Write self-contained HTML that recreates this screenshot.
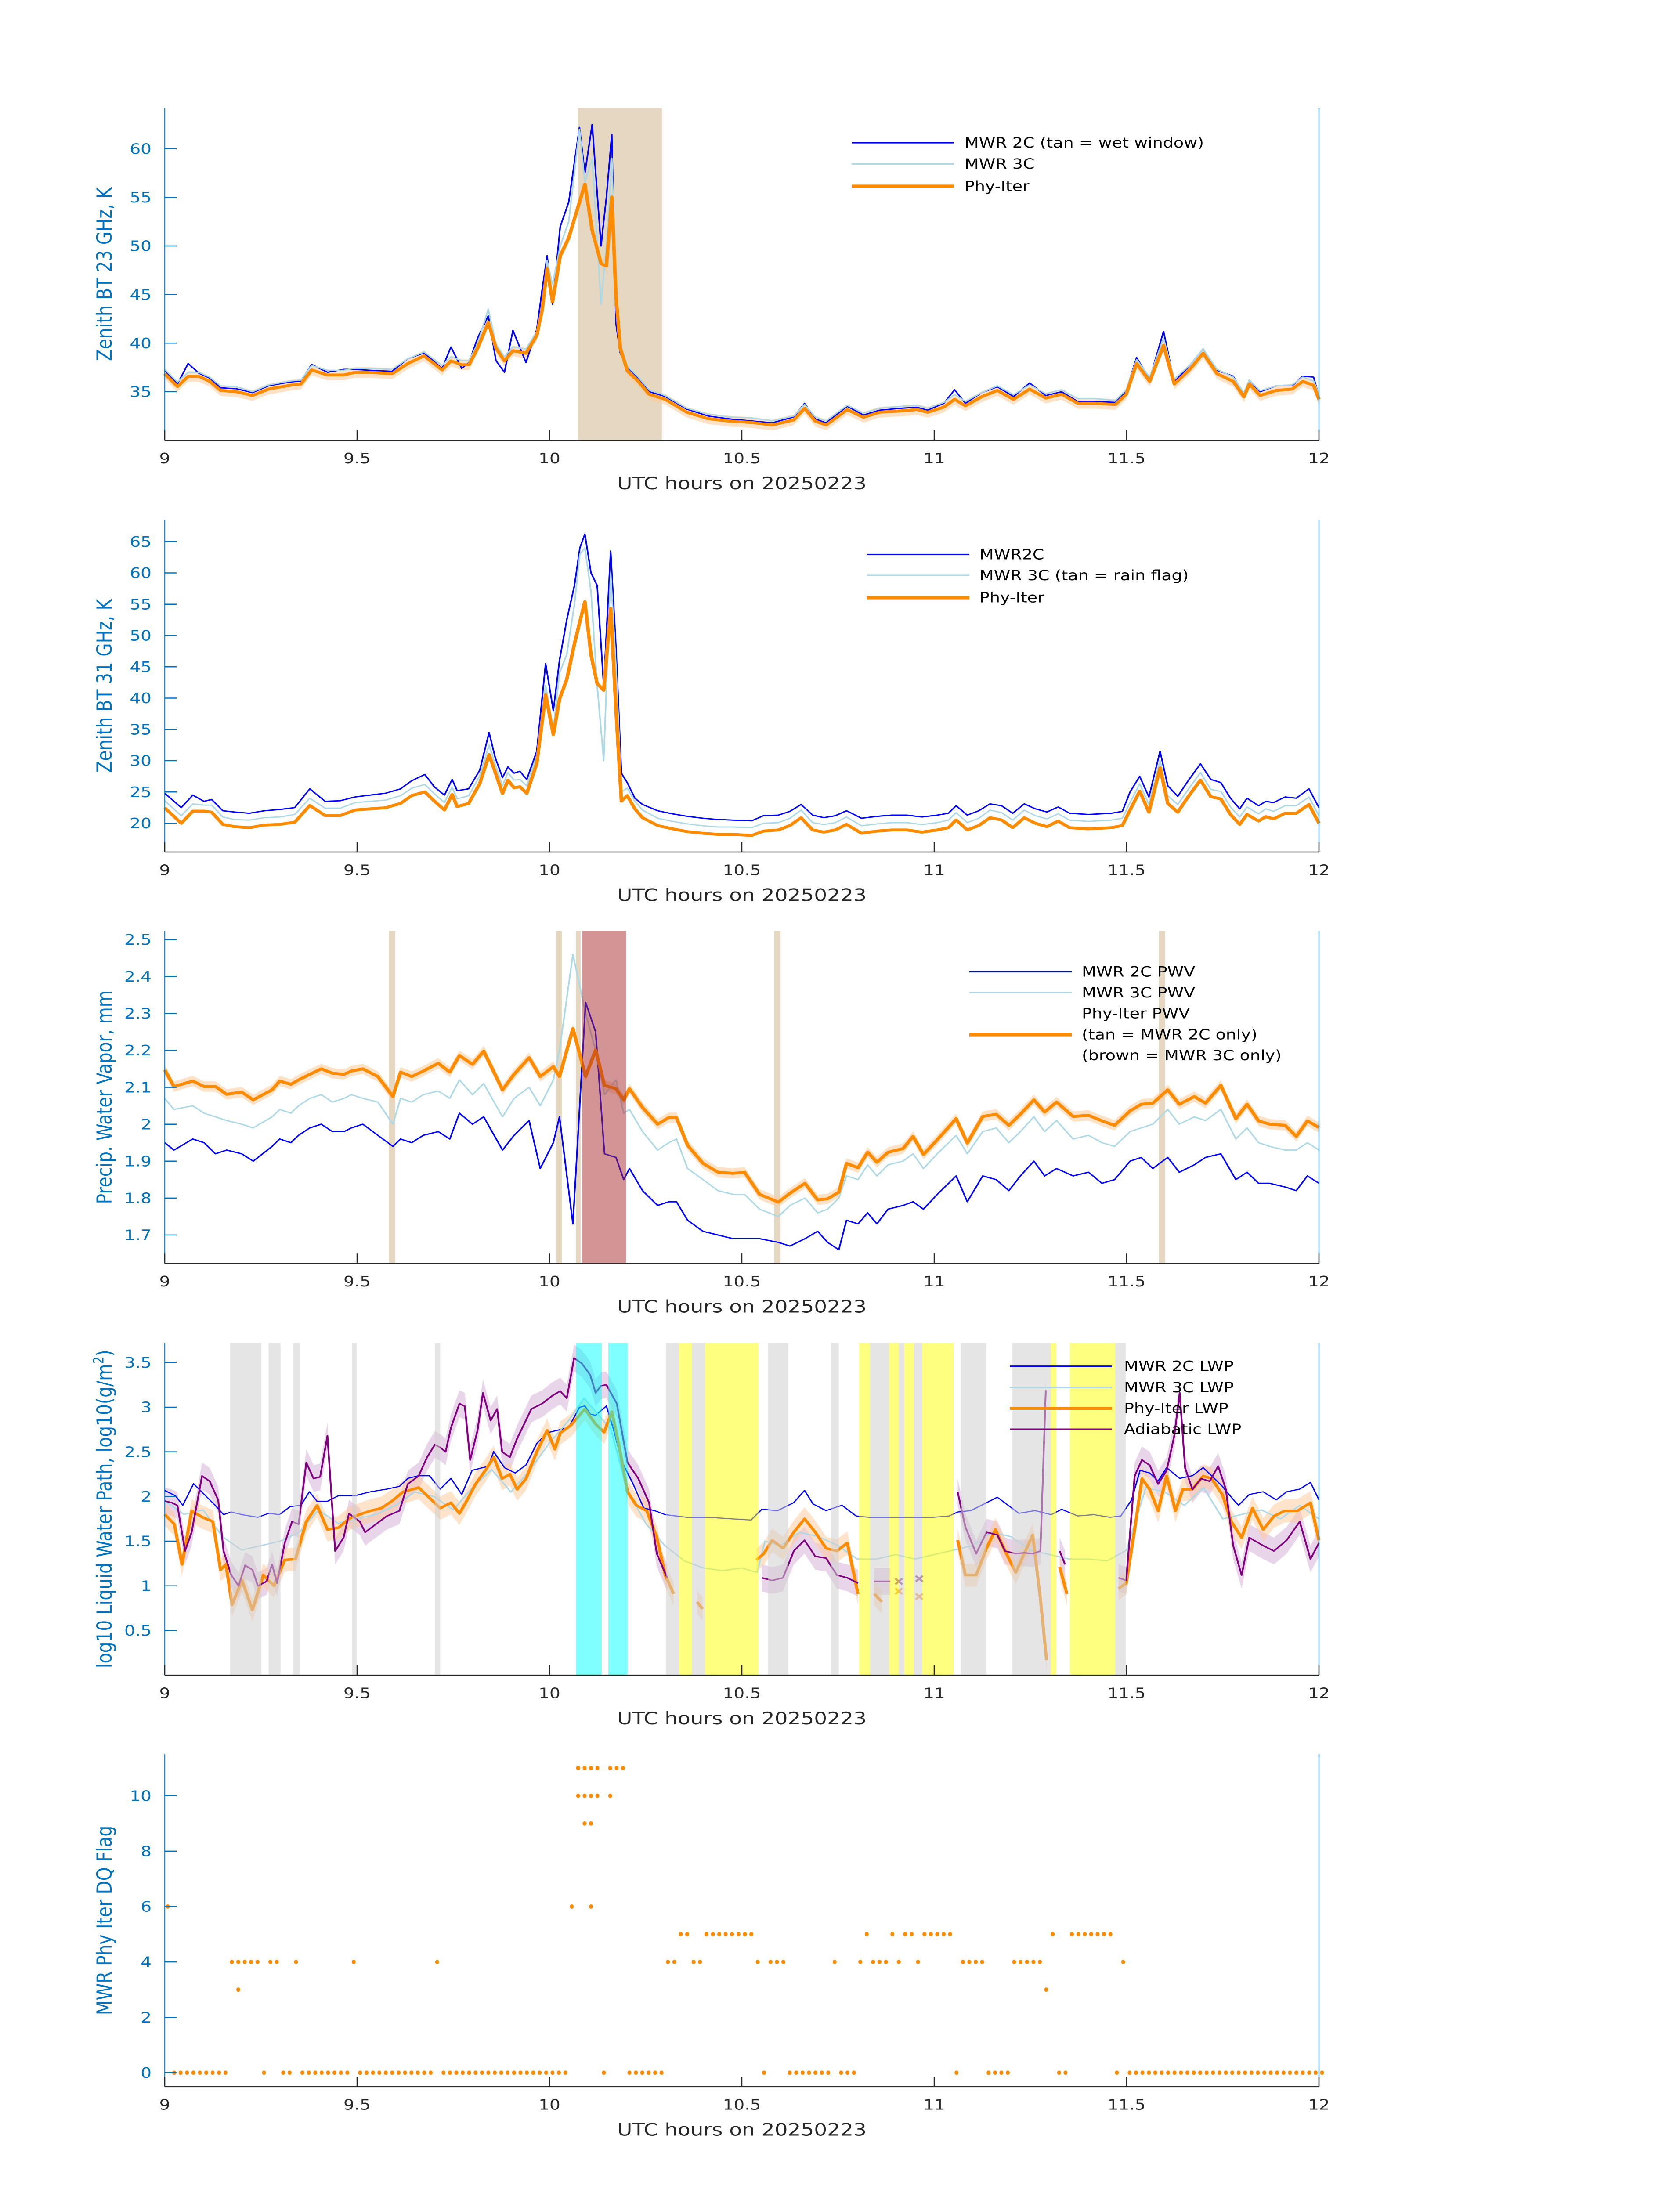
<!DOCTYPE html>
<html><head><meta charset="utf-8"><style>
html,body{margin:0;padding:0;background:#fff;width:100%;height:100%;overflow:hidden;}
svg{display:block;width:100vw;height:100vh;font-family:"DejaVu Sans","Liberation Sans",sans-serif;}
</style></head><body>
<svg id="fig" xmlns="http://www.w3.org/2000/svg" viewBox="0 0 3825 6000" preserveAspectRatio="none"></svg>
<script>
// ---------- Panel 1: 23 GHz BT ----------
const t1=[9.000,9.033,9.061,9.089,9.117,9.145,9.187,9.228,9.270,9.326,9.354,9.382,9.423,9.465,9.493,9.535,9.591,9.632,9.674,9.721,9.744,9.772,9.791,9.813,9.841,9.861,9.883,9.905,9.939,9.967,9.981,9.994,10.008,10.028,10.050,10.078,10.092,10.111,10.134,10.148,10.162,10.173,10.184,10.203,10.231,10.259,10.301,10.357,10.412,10.468,10.524,10.579,10.635,10.663,10.691,10.719,10.774,10.816,10.858,10.914,10.955,10.983,11.025,11.053,11.081,11.123,11.164,11.206,11.248,11.290,11.331,11.373,11.415,11.471,11.499,11.526,11.560,11.596,11.624,11.666,11.699,11.735,11.777,11.805,11.819,11.847,11.889,11.930,11.958,11.986,12.000];
const phy23=[36.85,35.53,36.58,36.58,36.06,35.13,35.00,34.61,35.27,35.66,35.79,37.24,36.72,36.72,36.98,36.98,36.85,37.90,38.69,37.24,38.17,37.77,37.77,39.48,42.12,39.48,38.17,39.22,38.96,40.80,43.44,47.66,44.23,48.98,50.82,54.51,56.36,51.61,48.19,47.92,55.04,44.76,39.48,37.11,36.06,34.74,34.21,32.89,32.23,31.97,31.84,31.57,32.10,33.29,31.97,31.57,33.16,32.36,32.89,33.02,33.16,32.89,33.42,34.21,33.55,34.47,35.13,34.21,35.27,34.34,34.74,33.81,33.81,33.68,34.74,37.90,36.06,39.75,35.79,37.37,38.96,36.85,36.06,34.47,35.79,34.61,35.13,35.27,36.06,35.66,34.21];
const mwr2c23=[37.2,35.8,37.9,36.9,36.4,35.4,35.3,34.9,35.6,36.0,36.1,37.8,37.0,37.3,37.3,37.2,37.1,38.4,39.0,37.4,39.6,37.4,38.0,40.5,42.8,38.2,37.0,41.3,38.0,41.4,45.5,49.0,44.0,52.0,54.5,62.2,57.5,62.5,50.0,55.0,61.5,42.0,39.0,37.5,36.4,35.0,34.5,33.2,32.5,32.2,32.0,31.8,32.4,33.8,32.2,31.8,33.5,32.6,33.1,33.3,33.4,33.1,33.8,35.2,33.8,34.9,35.5,34.5,35.9,34.6,35.0,34.0,34.0,33.9,35.1,38.5,36.3,41.2,36.0,37.8,39.4,37.2,36.6,34.7,36.2,35.0,35.6,35.6,36.6,36.5,34.5];
const mwr3c23=[37.3,36.0,37.0,37.0,36.5,35.6,35.5,35.0,35.7,36.1,36.2,37.7,37.2,37.2,37.4,37.4,37.3,38.4,39.1,37.7,38.6,38.2,38.2,39.9,43.5,39.9,38.6,39.6,39.4,41.2,44.0,48.5,46.0,50.0,52.5,62.0,56.5,59.0,44.0,50.0,59.0,45.5,40.0,37.6,36.5,35.2,34.6,33.3,32.7,32.4,32.3,32.0,32.5,33.7,32.4,32.0,33.6,32.8,33.3,33.5,33.6,33.3,33.9,34.7,34.0,34.9,35.6,34.7,35.7,34.8,35.2,34.3,34.3,34.1,35.2,38.3,36.5,40.5,36.3,37.8,39.4,37.3,36.5,34.9,36.2,35.1,35.6,35.7,36.5,36.1,34.7];
const wetWindow=[[10.074,10.292]];
const ticks1=[35,40,45,50,55,60];

// ---------- Panel 2: 31 GHz BT ----------
const t2=[9.000,9.043,9.073,9.102,9.122,9.151,9.181,9.220,9.259,9.299,9.338,9.377,9.417,9.456,9.495,9.534,9.574,9.613,9.642,9.676,9.701,9.727,9.747,9.760,9.790,9.819,9.843,9.859,9.878,9.892,9.908,9.923,9.941,9.967,9.990,10.010,10.026,10.045,10.065,10.079,10.092,10.108,10.124,10.141,10.159,10.173,10.187,10.202,10.222,10.242,10.281,10.320,10.359,10.399,10.438,10.477,10.526,10.556,10.595,10.625,10.654,10.684,10.713,10.743,10.772,10.811,10.851,10.890,10.929,10.968,11.008,11.037,11.057,11.086,11.116,11.145,11.175,11.204,11.234,11.263,11.293,11.322,11.352,11.401,11.460,11.489,11.509,11.534,11.558,11.587,11.607,11.633,11.660,11.692,11.719,11.745,11.770,11.794,11.813,11.843,11.862,11.882,11.912,11.941,11.974,12.000];
const phy31=[22.47,19.99,21.94,21.94,21.76,19.82,19.46,19.29,19.71,19.82,20.17,22.83,21.23,21.23,22.12,22.30,22.47,23.18,24.42,25.02,23.53,22.12,24.60,22.65,23.18,26.37,30.97,28.14,24.77,26.90,25.66,25.84,24.77,29.56,40.53,34.16,39.82,43.01,48.68,52.22,55.40,46.91,42.30,41.24,54.34,38.05,23.53,24.42,22.30,20.88,19.64,19.11,18.65,18.40,18.22,18.22,18.05,18.75,18.93,19.64,20.88,18.93,18.58,18.93,19.82,18.40,18.75,18.93,18.93,18.58,18.93,19.29,20.53,18.93,19.64,20.88,20.53,19.29,20.88,19.99,19.46,20.35,19.29,19.11,19.29,19.64,22.12,25.13,21.76,28.85,23.18,21.76,24.24,26.90,24.24,23.89,21.41,19.82,21.41,20.35,21.06,20.70,21.59,21.59,23.00,19.99];
const mwr2c31=[24.8,22.5,24.5,23.5,23.8,22.0,21.8,21.6,22.0,22.2,22.5,25.5,23.5,23.6,24.2,24.5,24.8,25.5,26.8,27.8,25.8,24.5,27.0,25.2,25.5,28.5,34.5,30.5,27.3,29.0,28.0,28.3,27.0,31.5,45.5,38.0,46.0,52.5,58.0,64.0,66.2,60.0,58.0,42.0,63.5,48.0,28.0,26.5,24.0,23.0,22.0,21.5,21.1,20.8,20.6,20.5,20.4,21.2,21.3,21.9,23.0,21.3,20.9,21.2,22.0,20.8,21.1,21.3,21.3,21.0,21.3,21.6,22.8,21.3,22.0,23.1,22.8,21.6,23.1,22.3,21.8,22.6,21.6,21.4,21.6,21.9,25.0,27.5,24.2,31.5,26.0,24.3,26.8,29.5,27.0,26.5,24.0,22.3,24.0,22.8,23.5,23.3,24.2,24.0,25.5,22.5];
const mwr3c31=[23.6,21.2,23.1,22.9,22.9,21.0,20.6,20.5,20.9,21.0,21.4,24.0,22.4,22.4,23.3,23.5,23.7,24.4,25.6,26.2,24.7,23.3,25.8,23.9,24.4,27.6,32.5,29.4,26.0,28.1,26.9,27.0,26.0,30.8,42.0,35.0,44.0,47.0,55.0,63.0,64.0,57.0,42.0,30.0,60.0,45.0,25.0,25.6,23.5,22.1,20.8,20.3,19.9,19.6,19.4,19.4,19.3,20.0,20.1,20.8,22.1,20.1,19.8,20.1,21.0,19.6,19.9,20.1,20.1,19.8,20.1,20.5,21.7,20.1,20.8,22.1,21.7,20.5,22.1,21.2,20.7,21.5,20.5,20.3,20.5,20.8,23.3,26.3,23.0,30.0,24.4,23.0,25.4,28.1,25.4,25.1,22.6,21.0,22.6,21.5,22.3,21.9,22.8,22.8,24.2,21.2];
const ticks2=[20,25,30,35,40,45,50,55,60,65];

// ---------- Panel 3: PWV ----------
const t3=[9.000,9.024,9.073,9.102,9.132,9.161,9.200,9.230,9.279,9.299,9.328,9.348,9.377,9.407,9.436,9.466,9.485,9.515,9.554,9.593,9.613,9.642,9.672,9.711,9.741,9.766,9.800,9.829,9.878,9.908,9.947,9.976,10.010,10.026,10.061,10.094,10.120,10.143,10.173,10.193,10.208,10.242,10.281,10.310,10.330,10.359,10.399,10.438,10.477,10.507,10.546,10.595,10.625,10.664,10.697,10.723,10.752,10.772,10.802,10.827,10.851,10.880,10.919,10.945,10.972,11.008,11.057,11.086,11.126,11.161,11.194,11.224,11.259,11.287,11.318,11.361,11.401,11.436,11.469,11.509,11.538,11.568,11.607,11.637,11.676,11.705,11.745,11.784,11.813,11.843,11.872,11.912,11.941,11.970,12.000];
const phyPwv=[2.147,2.102,2.117,2.102,2.102,2.081,2.087,2.066,2.093,2.117,2.108,2.120,2.135,2.150,2.138,2.135,2.144,2.150,2.129,2.075,2.141,2.129,2.144,2.165,2.141,2.186,2.162,2.198,2.093,2.135,2.180,2.129,2.156,2.129,2.259,2.129,2.201,2.105,2.096,2.066,2.096,2.045,2.000,2.018,2.018,1.943,1.894,1.870,1.867,1.870,1.810,1.789,1.813,1.840,1.795,1.798,1.816,1.894,1.882,1.924,1.897,1.924,1.934,1.967,1.918,1.958,2.015,1.949,2.021,2.027,1.997,2.027,2.066,2.033,2.060,2.021,2.024,2.009,1.997,2.036,2.054,2.057,2.093,2.054,2.075,2.057,2.105,2.015,2.054,2.009,2.000,1.997,1.967,2.009,1.991];
const mwr3cPwv=[2.07,2.04,2.05,2.03,2.02,2.01,2.00,1.99,2.02,2.04,2.03,2.05,2.07,2.08,2.06,2.07,2.08,2.07,2.06,2.00,2.07,2.06,2.08,2.09,2.07,2.12,2.08,2.11,2.02,2.07,2.10,2.05,2.12,2.20,2.46,2.30,2.20,2.08,2.12,2.03,2.04,1.98,1.93,1.95,1.96,1.88,1.85,1.82,1.81,1.81,1.77,1.75,1.78,1.80,1.76,1.77,1.80,1.86,1.85,1.89,1.86,1.89,1.90,1.92,1.88,1.92,1.97,1.92,1.98,1.99,1.95,1.98,2.02,1.98,2.01,1.96,1.97,1.95,1.94,1.98,1.99,2.00,2.04,2.00,2.02,2.01,2.04,1.96,1.99,1.95,1.94,1.93,1.93,1.95,1.93];
const mwr2cPwv=[1.95,1.93,1.96,1.95,1.92,1.93,1.92,1.90,1.94,1.96,1.95,1.97,1.99,2.00,1.98,1.98,1.99,2.00,1.97,1.94,1.96,1.95,1.97,1.98,1.96,2.03,2.00,2.02,1.93,1.97,2.01,1.88,1.95,2.02,1.73,2.33,2.25,1.92,1.91,1.85,1.88,1.82,1.78,1.79,1.79,1.74,1.71,1.70,1.69,1.69,1.69,1.68,1.67,1.69,1.71,1.68,1.66,1.74,1.73,1.76,1.73,1.77,1.78,1.79,1.77,1.81,1.86,1.79,1.86,1.85,1.82,1.86,1.90,1.86,1.88,1.86,1.87,1.84,1.85,1.90,1.91,1.88,1.91,1.87,1.89,1.91,1.92,1.85,1.87,1.84,1.84,1.83,1.82,1.86,1.84];
const tan2cOnly=[[9.583,9.599],[10.018,10.032],[10.069,10.081],[10.584,10.600],[11.584,11.600]];
const brown3cOnly=[[10.085,10.199]];
const ticks3=[1.7,1.8,1.9,2.0,2.1,2.2,2.3,2.4,2.5];

// ---------- Panel 4: LWP ----------
const t2cLwp=[9.000,9.028,9.047,9.075,9.103,9.131,9.153,9.173,9.201,9.242,9.270,9.298,9.326,9.354,9.376,9.396,9.423,9.451,9.493,9.535,9.577,9.610,9.632,9.660,9.688,9.716,9.744,9.772,9.799,9.841,9.855,9.883,9.911,9.939,9.967,9.994,10.022,10.050,10.078,10.092,10.106,10.120,10.148,10.167,10.189,10.217,10.245,10.273,10.301,10.357,10.412,10.468,10.524,10.552,10.593,10.635,10.663,10.685,10.719,10.760,10.797,10.830,10.886,10.941,10.997,11.039,11.061,11.095,11.123,11.164,11.192,11.220,11.262,11.304,11.331,11.373,11.415,11.457,11.485,11.513,11.535,11.560,11.582,11.604,11.638,11.671,11.699,11.721,11.749,11.772,11.791,11.819,11.855,11.889,11.916,11.950,11.978,12.000];
const mwr2cLwp=[2.068,2.008,1.902,2.143,2.023,1.902,1.797,1.827,1.797,1.767,1.812,1.797,1.887,1.902,2.053,1.947,1.947,2.008,2.008,2.053,2.083,2.113,2.203,2.233,2.233,2.083,2.203,2.023,2.293,2.338,2.503,2.323,2.263,2.353,2.593,2.713,2.743,2.773,2.998,3.014,2.923,2.908,3.014,2.743,2.383,2.143,1.872,1.842,1.797,1.767,1.767,1.752,1.737,1.857,1.842,1.932,2.068,1.917,1.842,1.902,1.782,1.767,1.767,1.767,1.767,1.782,1.827,1.842,1.902,1.992,1.902,1.812,1.842,1.797,1.857,1.782,1.797,1.767,1.782,1.962,2.293,2.263,2.173,2.323,2.203,2.233,2.323,2.233,2.113,1.992,1.902,2.023,2.053,1.962,2.053,2.083,2.158,1.962];
const t3cLwp=[9.0,9.05,9.1,9.15,9.2,9.25,9.3,9.35,9.4,9.45,9.5,9.55,9.6,9.65,9.7,9.75,9.8,9.85,9.9,9.95,10.0,10.05,10.09,10.12,10.16,10.2,10.25,10.3,10.33,10.35,10.4,10.45,10.5,10.54,10.56,10.6,10.65,10.7,10.75,10.8,10.85,10.9,10.95,11.0,11.05,11.1,11.15,11.2,11.25,11.3,11.35,11.4,11.45,11.5,11.55,11.6,11.65,11.7,11.75,11.8,11.85,11.9,11.95,12.0];
const mwr3cLwp=[1.95,1.8,1.85,1.55,1.4,1.45,1.5,1.6,1.85,1.7,1.75,1.8,1.9,2.05,2.0,1.85,2.1,2.3,2.05,2.3,2.6,2.85,3.1,2.95,2.75,2.1,1.7,1.45,1.35,1.28,1.2,1.17,1.2,1.15,1.5,1.45,1.6,1.55,1.45,1.3,1.3,1.35,1.3,1.35,1.4,1.45,1.6,1.55,1.4,1.35,1.3,1.3,1.28,1.4,2.1,2.05,1.9,2.1,1.75,1.8,1.85,1.75,1.9,1.75];
const tPhyLwp=[9.000,9.025,9.045,9.070,9.097,9.125,9.145,9.159,9.175,9.201,9.228,9.256,9.284,9.312,9.340,9.368,9.396,9.423,9.451,9.479,9.507,9.535,9.563,9.591,9.619,9.660,9.682,9.716,9.744,9.766,9.786,9.808,9.833,9.855,9.877,9.897,9.916,9.939,9.967,9.994,10.014,10.028,10.056,10.092,10.120,10.142,10.162,10.181,10.203,10.226,10.253,10.279,10.301,10.323,10.350,10.384,10.398,10.470,10.538,10.557,10.579,10.607,10.635,10.663,10.691,10.719,10.747,10.774,10.802,10.822,10.844,10.864,10.960,11.061,11.081,11.109,11.136,11.159,11.184,11.212,11.234,11.256,11.276,11.292,11.310,11.326,11.345,11.400,11.479,11.499,11.521,11.540,11.560,11.582,11.604,11.627,11.646,11.671,11.699,11.721,11.749,11.772,11.799,11.827,11.855,11.883,11.911,11.944,11.978,12.000];
const phyLwp=[1.80,1.69,1.24,1.84,1.77,1.72,1.18,1.24,0.79,1.06,0.73,1.12,1.00,1.29,1.30,1.72,1.90,1.63,1.65,1.75,1.80,1.84,1.87,1.95,2.05,2.10,2.01,1.87,1.93,1.81,1.96,2.14,2.29,2.44,2.20,2.25,2.08,2.20,2.50,2.74,2.53,2.71,2.80,2.98,2.81,2.72,2.95,2.56,2.05,1.90,1.84,1.54,1.12,0.91,null,0.82,0.74,null,1.29,1.36,1.51,1.42,1.60,1.75,1.60,1.42,1.39,1.48,0.91,null,0.91,0.82,null,1.51,1.12,1.12,1.42,1.63,1.39,1.15,1.36,1.57,0.85,0.17,null,1.21,0.91,null,0.97,1.03,1.63,2.20,2.08,1.84,2.23,1.84,2.08,2.08,2.23,2.20,2.02,1.72,1.54,1.87,1.63,1.78,1.84,1.84,1.93,1.51];
const tAdiabLwp=[9.000,9.019,9.033,9.053,9.070,9.097,9.117,9.139,9.153,9.173,9.192,9.209,9.228,9.242,9.265,9.279,9.292,9.312,9.331,9.348,9.368,9.387,9.404,9.423,9.443,9.465,9.479,9.507,9.521,9.549,9.577,9.610,9.632,9.660,9.682,9.702,9.716,9.730,9.744,9.766,9.780,9.794,9.813,9.827,9.847,9.864,9.877,9.897,9.916,9.933,9.953,9.981,10.008,10.028,10.045,10.064,10.084,10.106,10.120,10.134,10.148,10.175,10.203,10.231,10.259,10.279,10.306,10.430,10.552,10.579,10.607,10.635,10.663,10.691,10.719,10.747,10.774,10.802,10.822,10.844,10.886,10.960,11.061,11.081,11.109,11.136,11.164,11.184,11.212,11.234,11.256,11.276,11.290,11.310,11.326,11.340,11.400,11.479,11.499,11.521,11.540,11.560,11.582,11.604,11.624,11.638,11.652,11.671,11.694,11.716,11.738,11.758,11.777,11.799,11.819,11.855,11.883,11.916,11.950,11.978,12.000];
const adiabLwp=[1.95,1.93,1.90,1.39,1.60,2.23,2.17,1.96,1.39,1.12,1.00,1.23,1.18,1.00,1.05,1.24,1.03,1.48,1.72,1.69,2.38,2.20,2.22,2.68,1.39,1.54,1.81,1.72,1.60,1.69,1.78,1.84,2.14,2.23,2.44,2.58,2.55,2.50,2.77,3.04,3.01,2.41,2.74,3.16,2.85,2.98,2.50,2.44,2.65,2.80,2.98,3.04,3.13,3.18,3.10,3.55,3.49,3.36,3.16,3.24,3.25,3.04,2.38,2.20,1.93,1.36,1.09,null,1.09,1.06,1.09,1.39,1.51,1.33,1.31,1.12,1.09,1.03,null,1.05,1.05,null,2.05,1.66,1.36,1.60,1.57,1.39,1.36,1.37,1.36,1.39,3.19,null,1.39,1.24,null,1.09,1.06,2.23,2.41,2.35,2.14,2.29,2.68,3.16,2.32,2.08,2.20,2.17,2.34,2.08,1.45,1.12,1.54,1.45,1.39,1.51,1.72,1.30,1.48];
const xMarkTimes=[10.908,10.961];
const xMarkAdiab=[1.05,1.08];
const xMarkPhy=[0.94,0.88];
const graySpans=[[9.170,9.251],[9.270,9.301],[9.334,9.351],[9.487,9.499],[9.702,9.716],[10.303,10.337],[10.370,10.404],[10.568,10.621],[10.732,10.752],[10.833,10.883],[10.908,10.922],[10.947,10.969],[11.069,11.136],[11.203,11.303],[11.470,11.498]];
const yellowSpans=[[10.337,10.370],[10.404,10.543],[10.805,10.833],[10.883,10.908],[10.922,10.947],[10.969,11.050],[11.303,11.317],[11.353,11.470]];
const cyanSpans=[[10.069,10.136],[10.153,10.203]];
const ticks4=[0.5,1,1.5,2,2.5,3,3.5];

// ---------- Panel 5: DQ flag ----------
const flagLevels=[0,3,4,5,6,9,10,11];
const flagMinutes=[
 [1,2,3,4,5,6,7,8,9,15,18,19,21,22,23,24,25,26,27,28,30,31,32,33,34,35,36,37,38,39,40,41,43,44,45,46,47,48,49,50,51,52,53,54,55,56,57,58,59,60,61,62,68,72,73,74,75,76,77,93,97,98,99,100,101,102,103,105,106,107,123,128,129,130,131,139,140,148,150,151,152,153,154,155,156,157,158,159,160,161,162,163,164,165,166,167,168,169,170,171,172,173,174,175,176,177,178,179,180],
 [11,137],
 [10,11,12,13,14,16,17,20,29,42,78,79,82,83,92,94,95,96,104,108,110,111,112,114,117,124,125,126,127,132,133,134,135,136,149],
 [80,81,84,85,86,87,88,89,90,91,109,113,115,116,118,119,120,121,122,138,141,142,143,144,145,146,147],
 [0,63,66],
 [65,66],
 [64,65,66,67,69],
 [64,65,66,67,69,70,71]
];
const ticks5=[0,2,4,6,8,10];

const xTicks=[9,9.5,10,10.5,11,11.5,12];
const xTickLabels=["9","9.5","10","10.5","11","11.5","12"];

// ---------- drawing ----------
const NS="http://www.w3.org/2000/svg";
const svg=document.getElementById("fig");
const L=375,R=3003,X0=9,X1=12,PH=908;
const panels=[
 {top:295,ymin:30,ymax:64.2},
 {top:1420,ymin:15.4,ymax:68.5},
 {top:2544,ymin:1.623,ymax:2.523},
 {top:3669,ymin:0,ymax:3.72},
 {top:4793,ymin:-0.5,ymax:11.5}
];
function sx(h){return L+(h-X0)/(X1-X0)*(R-L);}
function sy(p,v){return p.top+PH-(v-p.ymin)/(p.ymax-p.ymin)*PH;}
function mk(tag,attrs,parent){const e=document.createElementNS(NS,tag);for(const k in attrs)e.setAttribute(k,attrs[k]);(parent||svg).appendChild(e);return e;}
function cl(v,p){return Math.max(p.ymin,Math.min(p.ymax,v));}
function segs(ts,vs){const out=[];let cur=[];const n=Math.min(ts.length,vs.length);for(let i=0;i<n;i++){if(vs[i]===null){if(cur.length)out.push(cur);cur=[];}else cur.push([ts[i],vs[i]]);}if(cur.length)out.push(cur);return out;}
function line(g,p,ts,vs,color,w,name){
  for(const s of segs(ts,vs)){
    const d=s.map((q,i)=>(i?"L":"M")+sx(q[0]).toFixed(1)+","+sy(p,cl(q[1],p)).toFixed(1)).join("");
    const e=mk("path",{d:d,fill:"none",stroke:color,"stroke-width":w,"stroke-linejoin":"round"},g);
    
    
  }
}
function band(g,p,ts,vs,hw,color,op,name){
  for(const s of segs(ts,vs)){
    if(s.length<2)continue;
    const up=s.map(q=>sx(q[0]).toFixed(1)+","+sy(p,cl(q[1]+hw,p)).toFixed(1));
    const lo=s.slice().reverse().map(q=>sx(q[0]).toFixed(1)+","+sy(p,cl(q[1]-hw,p)).toFixed(1));
    const e=mk("polygon",{points:up.concat(lo).join(" "),fill:color,"fill-opacity":op,stroke:"none"},g);
    
    
  }
}
function spans(g,p,list,color,op,name){
  for(const s of list){
    const e=mk("rect",{x:sx(s[0]).toFixed(1),y:p.top,width:(sx(s[1])-sx(s[0])).toFixed(1),height:PH,fill:color,"fill-opacity":op},g);
    
    
  }
}
function axes(p,ticks,ylabel,idx){
  const g=mk("g",{});
  
  
  const b=p.top+PH;
  const xa=mk("line",{x1:L,y1:b,x2:R,y2:b,stroke:"#262626","stroke-width":3},g);
  
  
  const yl=mk("line",{x1:L,y1:p.top,x2:L,y2:b,stroke:"#0072BD","stroke-width":2.5,"stroke-opacity":0.85},g);
  
  
  const yr=mk("line",{x1:R,y1:p.top,x2:R,y2:b,stroke:"#0072BD","stroke-width":2.5,"stroke-opacity":0.85},g);
  
  
  xTicks.forEach((t,i)=>{
    const x=sx(t);
    const tk=mk("line",{x1:x,y1:b,x2:x,y2:b-27,stroke:"#262626","stroke-width":2.5},g);
    
    
    const tl=mk("text",{x:x,y:b+63,"text-anchor":"middle","font-size":39,fill:"#262626"},g);
    tl.textContent=xTickLabels[i];
    
    
  });
  ticks.forEach(t=>{
    const y=sy(p,t);
    const tk=mk("line",{x1:L,y1:y,x2:L+27,y2:y,stroke:"#0072BD","stroke-width":3},g);
    
    
    const tl=mk("text",{x:L-30,y:y+14,"text-anchor":"end","font-size":39,fill:"#0072BD"},g);
    tl.textContent=String(t);
    
    
  });
  const xt=mk("text",{x:(L+R)/2,y:b+134,"text-anchor":"middle","font-size":47,fill:"#262626"},g);
  xt.textContent="UTC hours on 20250223";
  
  
  const cy=p.top+PH/2;
  const yt=mk("text",{x:0,y:0,"text-anchor":"middle","font-size":47,fill:"#0072BD",transform:"translate(254,"+cy+") rotate(-90)"},g);
  
  
  if(Array.isArray(ylabel)){yt.appendChild(document.createTextNode(ylabel[0]));const ts=mk("tspan",{"baseline-shift":"super","font-size":32},yt);ts.textContent="2";yt.appendChild(document.createTextNode(ylabel[1]));}
  else yt.textContent=ylabel;
}
function legend(entries,lx,tx,ys,name){
  const g=mk("g",{});
  
  
  entries.forEach((en,i)=>{
    if(en.c){const l=mk("line",{x1:lx,y1:ys[i],x2:lx+233,y2:ys[i],stroke:en.c,"stroke-width":en.w},g);
      
      }
    const t=mk("text",{x:tx,y:ys[i]+13,"font-size":38,fill:"#000"},g);
    t.textContent=en.t;
    
    
  });
}
const BLUE="#0000ff",LBLUE="#add8e6",ORANGE="#ff8c00",PURPLE="#800080";

// Panel 1
(function(){const p=panels[0];const g=mk("g",{});


spans(g,p,wetWindow,"#e5d7c0",1,'wet-window-shade');
band(g,p,t1,phy23,0.55,"#ffc898",0.55,'phy-iter-uncertainty');
line(g,p,t1,mwr2c23,BLUE,3.5,'mwr-2c-line');
line(g,p,t1,mwr3c23,LBLUE,3.5,'mwr-3c-line');
line(g,p,t1,phy23,ORANGE,8,'phy-iter-line');
axes(p,ticks1,"Zenith BT 23 GHz, K",1);
legend([{t:"MWR 2C (tan = wet window)",c:BLUE,w:4},{t:"MWR 3C",c:LBLUE,w:4},{t:"Phy-Iter",c:ORANGE,w:9}],1939,2196,[390,448,509],'legend-23ghz');
})();
// Panel 2
(function(){const p=panels[1];const g=mk("g",{});


line(g,p,t2,mwr2c31,BLUE,3.5,'mwr-2c-line');
line(g,p,t2,mwr3c31,LBLUE,3.5,'mwr-3c-line');
line(g,p,t2,phy31,ORANGE,8,'phy-iter-line');
axes(p,ticks2,"Zenith BT 31 GHz, K",2);
legend([{t:"MWR2C",c:BLUE,w:4},{t:"MWR 3C (tan = rain flag)",c:LBLUE,w:4},{t:"Phy-Iter",c:ORANGE,w:9}],1974,2230,[1515,1572,1633],'legend-31ghz');
})();
// Panel 3
(function(){const p=panels[2];const g=mk("g",{});


spans(g,p,tan2cOnly,"#e5d7c0",1,'tan-2c-only-shade');
band(g,p,t3,phyPwv,0.014,"#ffc898",0.55,'phy-iter-uncertainty');
line(g,p,t3,mwr3cPwv,LBLUE,3.5,'mwr-3c-pwv-line');
line(g,p,t3,mwr2cPwv,BLUE,3.5,'mwr-2c-pwv-line');
line(g,p,t3,phyPwv,ORANGE,8,'phy-iter-pwv-line');
spans(g,p,brown3cOnly,"#a52a2a",0.5,'brown-3c-only-shade');
axes(p,ticks3,"Precip. Water Vapor, mm",3);
legend([{t:"MWR 2C PWV",c:BLUE,w:4},{t:"MWR 3C PWV",c:LBLUE,w:4},{t:"Phy-Iter PWV"},{t:"(tan = MWR 2C only)",c:ORANGE,w:9},{t:"(brown = MWR 3C only)"}],2207,2463,[2655,2712,2769,2827,2884],'legend-pwv');
})();
// Panel 4
(function(){const p=panels[3];const g=mk("g",{});


band(g,p,tAdiabLwp,adiabLwp,0.15,"#c896c8",0.4,'adiabatic-uncertainty');
band(g,p,tPhyLwp,phyLwp,0.13,"#ffc898",0.5,'phy-iter-uncertainty');
line(g,p,t2cLwp,mwr2cLwp,BLUE,3,'mwr-2c-lwp-line');
line(g,p,t3cLwp,mwr3cLwp,LBLUE,3.5,'mwr-3c-lwp-line');
line(g,p,tPhyLwp,phyLwp,ORANGE,7,'phy-iter-lwp-line');
line(g,p,tAdiabLwp,adiabLwp,PURPLE,4,'adiabatic-lwp-line');
xMarkTimes.forEach((t,i)=>{
  [[xMarkAdiab[i],"#9a4d9a"],[xMarkPhy[i],"#f0a050"]].forEach(m=>{
    const x=sx(t),y=sy(p,m[0]);
    const e=mk("path",{d:`M${x-8},${y-8}L${x+8},${y+8}M${x-8},${y+8}L${x+8},${y-8}`,stroke:m[1],"stroke-width":5,fill:"none"},g);
    
    
  });
});
spans(g,p,graySpans,"#d0d0d0",0.55,'gray-flag-shade');
spans(g,p,yellowSpans,"#ffff00",0.5,'yellow-flag-shade');
spans(g,p,cyanSpans,"#00ffff",0.5,'cyan-flag-shade');
axes(p,ticks4,["log10 Liquid Water Path, log10(g/m",")"],4);
legend([{t:"MWR 2C LWP",c:BLUE,w:4},{t:"MWR 3C LWP",c:LBLUE,w:4},{t:"Phy-Iter LWP",c:ORANGE,w:8},{t:"Adiabatic LWP",c:PURPLE,w:4}],2299,2559,[3733,3791,3848,3905],'legend-lwp');
})();
// Panel 5
(function(){const p=panels[4];const g=mk("g",{});


flagLevels.forEach((lv,k)=>{
  flagMinutes[k].forEach(m=>{
    const e=mk("ellipse",{cx:sx(X0+(m+0.47)/60).toFixed(1),cy:sy(p,lv).toFixed(1),rx:4.5,ry:6,fill:ORANGE},g);
    
    
  });
});
axes(p,ticks5,"MWR Phy Iter DQ Flag",5);
})();
</script>
</body></html>
